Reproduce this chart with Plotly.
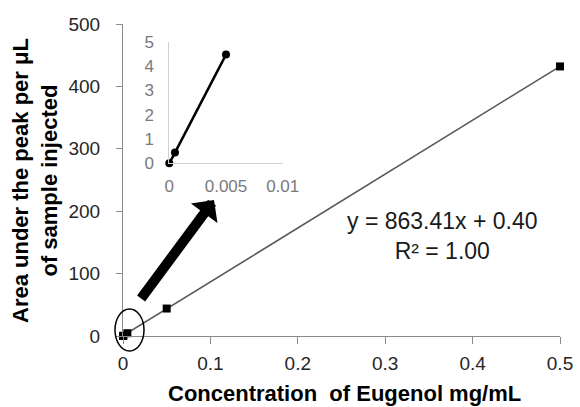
import plotly.graph_objects as go

# ---- data ----
conc = [0, 0.0005, 0.005, 0.05, 0.5]          # mg/mL
area = [0, 0.44, 4.47, 44, 432]               # area per uL
inset_conc = [0, 0.0005, 0.005]
inset_area = [0, 0.44, 4.47]
slope = 863.41
intercept = 0.40
trend_x = [0, 0.5]

x_ticks = [0, 0.1, 0.2, 0.3, 0.4, 0.5]
y_ticks = [0, 100, 200, 300, 400, 500]
inset_x_ticks = [0, 0.005, 0.01]
inset_x_labels = ["0", "0.005", "0.01"]
inset_y_ticks = [0, 1, 2, 3, 4, 5]

FONT = "Liberation Sans, Arial, sans-serif"

fig = go.Figure()
fig.add_trace(go.Scatter(
    x=trend_x, y=[slope * v + intercept for v in trend_x],
    mode="lines", line=dict(color="#5a5a5a", width=1.5),
    hoverinfo="skip", showlegend=False, cliponaxis=False))
fig.add_trace(go.Scatter(
    x=conc, y=area, mode="markers",
    marker=dict(symbol="square", size=8, color="black"),
    showlegend=False, cliponaxis=False))
fig.add_trace(go.Scatter(
    x=inset_conc, y=inset_area, mode="lines+markers",
    line=dict(color="black", width=2.5),
    marker=dict(symbol="circle", size=8, color="black",
                line=dict(color="black", width=0)),
    xaxis="x2", yaxis="y2", showlegend=False, cliponaxis=False))

L, R, T, B = 123, 20, 24, 71
W, H = 580, 407
pw, ph = W - L - R, H - T - B

def px_x(p):
    return (p - L) / pw

def px_y(p):
    return (H - B - p) / ph

fig.update_layout(
    width=W, height=H,
    margin=dict(l=L, r=R, t=T, b=B, pad=0, autoexpand=False),
    paper_bgcolor="white", plot_bgcolor="white",
    font=dict(family=FONT, color="#262626"),
    xaxis=dict(range=[0, 0.5], tickvals=x_ticks, showline=True,
               linecolor="#8a8a8a", linewidth=1, ticks="outside",
               ticklen=7, tickcolor="#8a8a8a", showgrid=False,
               zeroline=False, tickfont=dict(size=19, color="#262626"),
               ticklabelstandoff=3, automargin=False),
    yaxis=dict(range=[0, 500], tickvals=y_ticks, showline=True,
               linecolor="#8a8a8a", linewidth=1, ticks="outside",
               ticklen=6, tickcolor="#8a8a8a", showgrid=False,
               zeroline=False, tickfont=dict(size=19, color="#262626"),
               ticklabelstandoff=12, automargin=False),
    xaxis2=dict(domain=[px_x(169.3), px_x(282.7)], anchor="y2",
                range=[0, 0.01], tickvals=inset_x_ticks,
                ticktext=inset_x_labels, showline=True,
                linecolor="#d0d0d0", linewidth=1, ticks="",
                showgrid=False, zeroline=False,
                tickfont=dict(size=17, color="#7a7a7a"),
                ticklabelstandoff=7, automargin=False),
    yaxis2=dict(domain=[px_y(163.3), px_y(41.7)], anchor="x2",
                range=[0, 5], tickvals=inset_y_ticks, showline=True,
                linecolor="#d0d0d0", linewidth=1, ticks="",
                showgrid=False, zeroline=False,
                tickfont=dict(size=17, color="#7a7a7a"),
                ticklabelstandoff=11, automargin=False),
)

# axis titles
fig.add_annotation(
    text="<b>Concentration  of Eugenol mg/mL</b>", xref="paper", yref="paper",
    x=px_x(344), y=px_y(393), xanchor="center", yanchor="middle",
    showarrow=False, font=dict(size=22, color="black"))
fig.add_annotation(
    text="<b>Area under the peak per μL<br>of sample injected</b>",
    xref="paper", yref="paper", x=px_x(35), y=px_y(181),
    xanchor="center", yanchor="middle", textangle=-90,
    showarrow=False, font=dict(size=22, color="black"))

# equation
fig.add_annotation(
    text=f"y = {slope:.2f}x + {intercept:.2f}<br>R² = 1.00",
    xref="paper", yref="paper", x=px_x(442), y=px_y(236),
    xanchor="center", yanchor="middle", align="center",
    showarrow=False, font=dict(size=23, color="#1a1a1a"))

# arrow to inset
fig.add_annotation(
    xref="paper", yref="paper", x=px_x(214), y=px_y(200),
    ax=-74, ay=100, axref="pixel", ayref="pixel", text="",
    showarrow=True, arrowhead=1, arrowsize=0.55, arrowwidth=10,
    arrowcolor="black")

# ellipse around origin
fig.add_shape(type="circle", xref="paper", yref="paper",
              x0=px_x(115), x1=px_x(144), y0=px_y(351), y1=px_y(309),
              line=dict(color="black", width=1.5))

fig.write_html("out.html")
